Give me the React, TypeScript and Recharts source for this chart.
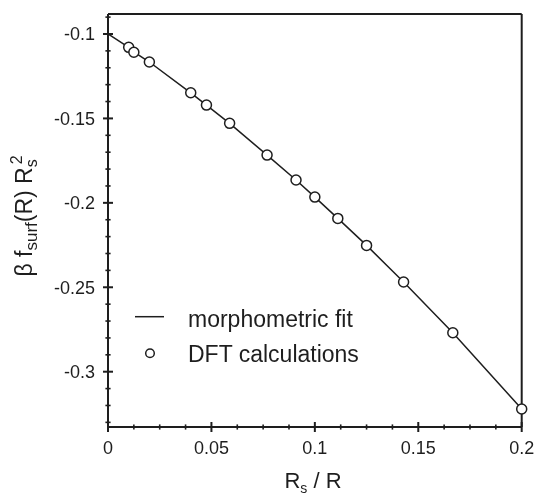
import React from 'react';
import { ComposedChart, Line, Scatter, XAxis, YAxis, Legend } from 'recharts';

// morphometric fit curve
const fitX = [0, 0.01, 0.0125, 0.02, 0.04, 0.0476, 0.0588, 0.0769, 0.0909, 0.1, 0.1111, 0.125, 0.1429, 0.1667, 0.2];
const fitY = [-0.1, -0.1079, -0.1106, -0.1166, -0.1349, -0.1421, -0.1529, -0.1717, -0.1865, -0.1966, -0.2092, -0.2252, -0.2469, -0.2769, -0.3221];

// DFT calculations
const dftX = [0.01, 0.0125, 0.02, 0.04, 0.0476, 0.0588, 0.0769, 0.0909, 0.1, 0.1111, 0.125, 0.1429, 0.1667, 0.2];
const dftY = [-0.1079, -0.1108, -0.1166, -0.1348, -0.1421, -0.1529, -0.1717, -0.1865, -0.1966, -0.2092, -0.2252, -0.2469, -0.2769, -0.3221];

// ticks
const xTicks = [0, 0.0125, 0.025, 0.0375, 0.05, 0.0625, 0.075, 0.0875, 0.1, 0.1125, 0.125, 0.1375, 0.15, 0.1625, 0.175, 0.1875, 0.2];
const xMajorTicks = [0, 0.05, 0.1, 0.15, 0.2];
const xTickLabels = ['0', '0.05', '0.1', '0.15', '0.2'];
const yTicks = [-0.33, -0.32, -0.31, -0.3, -0.29, -0.28, -0.27, -0.26, -0.25, -0.24, -0.23, -0.22, -0.21, -0.2, -0.19, -0.18, -0.17, -0.16, -0.15, -0.14, -0.13, -0.12, -0.11, -0.1, -0.09];
const yMajorTicks = [-0.1, -0.15, -0.2, -0.25, -0.3];
const yTickLabels = ['-0.1', '-0.15', '-0.2', '-0.25', '-0.3'];
const xDomain = [0, 0.2];
const yDomain = [-0.33275, -0.08816];

const seriesNames = ['morphometric fit', 'DFT calculations'];

const fitData = fitX.map((x, i) => ({ x, y: fitY[i] }));
const dftData = dftX.map((x, i) => ({ x, y: dftY[i] }));

const FONT = "'Liberation Sans', Arial, Helvetica, sans-serif";
const INK = '#1e1e1e';

const majorIndex = (v: number, majors: number[]) => majors.findIndex((m) => Math.abs(m - v) < 1e-9);

const renderXTick = (showLabel: boolean) => (props: any) => {
  const x = Number(props.x);
  const y = Number(props.y);
  const idx = majorIndex(props.payload.value, xMajorTicks);
  const len = idx >= 0 ? 5 : 2.6;
  return (
    <g key={`xt-${showLabel ? 'b' : 't'}-${props.index}`}>
      <path d={`M${x},${y - len}V${y + len}`} stroke={INK} strokeWidth={idx >= 0 ? 2 : 1.6} fill="none" />
      {showLabel && idx >= 0 && (
        <text x={x} y={y + 27} textAnchor="middle" fontFamily={FONT} fontSize={18} fill={INK} stroke="none">
          {xTickLabels[idx]}
        </text>
      )}
    </g>
  );
};

const renderYTick = (showLabel: boolean) => (props: any) => {
  const x = Number(props.x);
  const y = Number(props.y);
  const idx = majorIndex(props.payload.value, yMajorTicks);
  const len = idx >= 0 ? 5 : 2.6;
  return (
    <g key={`yt-${showLabel ? 'l' : 'r'}-${props.index}`}>
      <path d={`M${x - len},${y}H${x + len}`} stroke={INK} strokeWidth={idx >= 0 ? 2 : 1.6} fill="none" />
      {showLabel && idx >= 0 && (
        <text x={x - 13} y={y + 6.5} textAnchor="end" fontFamily={FONT} fontSize={18} fill={INK} stroke="none">
          {yTickLabels[idx]}
        </text>
      )}
    </g>
  );
};

const DftDot = (props: any) => {
  const { cx, cy } = props;
  if (cx == null || cy == null) return null;
  return <circle cx={cx} cy={cy} r={5} fill="#fff" stroke={INK} strokeWidth={1.5} />;
};

const XLabel = () => (
  <text x={305} y={480} textAnchor="middle" fontFamily={FONT} fontSize={22} fill={INK}>
    <tspan>R</tspan>
    <tspan fontSize={14} dy={5}>s</tspan>
    <tspan dy={-5}> / R</tspan>
  </text>
);

const YLabel = () => (
  <text
    x={23.7}
    y={208}
    transform="rotate(-90, 23.7, 208)"
    textAnchor="middle"
    fontFamily={FONT}
    fontSize={23}
    fill={INK}
  >
    <tspan>β f</tspan>
    <tspan fontSize={17} dy={5}>surf</tspan>
    <tspan dy={-5}>(R) R</tspan>
    <tspan fontSize={16} dy={5}>s</tspan>
    <tspan fontSize={16} dy={-15} dx={-5}>2</tspan>
  </text>
);

const LegendContent = () => (
  <svg width={260} height={80} style={{ display: 'block', overflow: 'visible' }}>
    <line x1={7} x2={36} y1={18.7} y2={18.7} stroke={INK} strokeWidth={1.5} />
    <text x={60} y={29.3} fontFamily={FONT} fontSize={23} fill={INK}>{seriesNames[0]}</text>
    <circle cx={22} cy={55.3} r={4.3} fill="#fff" stroke={INK} strokeWidth={1.5} />
    <text x={60} y={63.7} fontFamily={FONT} fontSize={23} fill={INK}>{seriesNames[1]}</text>
  </svg>
);

export default function App() {
  return (
    <div style={{ position: 'fixed', left: 8, top: 8 }}>
      <ComposedChart width={527} height={487} margin={{ top: 5, right: 12.3, bottom: 67, left: 99 }}>
        <XAxis
          xAxisId="bottom"
          dataKey="x"
          type="number"
          domain={xDomain}
          ticks={xTicks}
          interval={0}
          height={1}
          tickSize={0}
          tickMargin={0}
          tickLine={false}
          axisLine={{ stroke: INK, strokeWidth: 2 }}
          tick={renderXTick(true)}
          label={<XLabel />}
        />
        <XAxis
          xAxisId="top"
          orientation="top"
          dataKey="x"
          type="number"
          domain={xDomain}
          ticks={xTicks}
          interval={0}
          height={1}
          tickSize={0}
          tickMargin={0}
          tickLine={false}
          axisLine={{ stroke: INK, strokeWidth: 2 }}
          tick={renderXTick(false)}
        />
        <YAxis
          yAxisId="left"
          type="number"
          domain={yDomain}
          ticks={yTicks}
          interval={0}
          width={1}
          tickSize={0}
          tickMargin={0}
          tickLine={false}
          axisLine={{ stroke: INK, strokeWidth: 2 }}
          tick={renderYTick(true)}
          label={<YLabel />}
        />
        <YAxis
          yAxisId="right"
          orientation="right"
          type="number"
          domain={yDomain}
          ticks={yTicks}
          interval={0}
          width={1}
          tickSize={0}
          tickMargin={0}
          tickLine={false}
          axisLine={{ stroke: INK, strokeWidth: 2 }}
          tick={renderYTick(false)}
        />
        <Legend
          layout="vertical"
          align="center"
          verticalAlign="middle"
          wrapperStyle={{ left: 120, top: 290, width: 260, height: 80 }}
          content={<LegendContent />}
        />
        <Line
          xAxisId="bottom"
          yAxisId="left"
          data={fitData}
          dataKey="y"
          name={seriesNames[0]}
          type="linear"
          stroke={INK}
          strokeWidth={1.5}
          dot={false}
          activeDot={false}
          isAnimationActive={false}
        />
        <Scatter
          xAxisId="bottom"
          yAxisId="left"
          data={dftData}
          dataKey="y"
          name={seriesNames[1]}
          shape={<DftDot />}
          isAnimationActive={false}
        />
      </ComposedChart>
    </div>
  );
}
